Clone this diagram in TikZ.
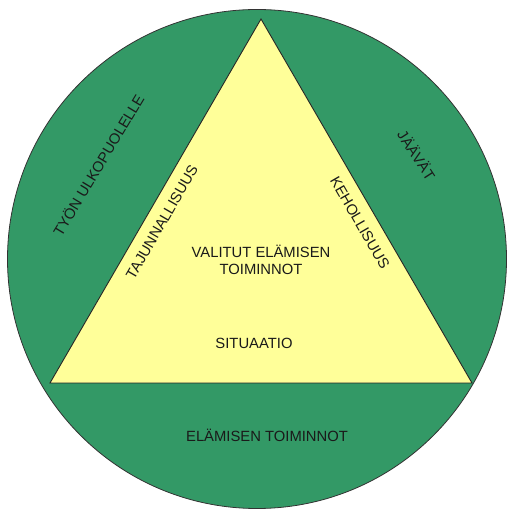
\documentclass[tikz,border=0pt]{standalone}
\usepackage{fontspec}
\setmainfont{Liberation Sans}
\definecolor{ringgreen}{HTML}{339966}
\definecolor{triyellow}{HTML}{FFFF99}
\definecolor{inktext}{HTML}{1A1A1A}
\begin{document}
\begin{tikzpicture}[x=1pt,y=1pt,
  lbl/.style={font=\fontsize{14.8}{16.5}\selectfont, text=inktext, inner sep=0pt, align=center}]
\useasboundingbox (0,0) rectangle (506,511);
\coordinate (c) at (257,252);
\coordinate (top) at (261,492);
\coordinate (bl) at (50,128);
\coordinate (br) at (472,128);
\draw[fill=ringgreen, draw=black!80, line width=0.8pt] (c) circle (249.5);
\draw[fill=triyellow, draw=black!85, line width=0.9pt, line join=miter] (top) -- (br) -- (bl) -- cycle;
\node[lbl] (valitut) at (261,251) {VALITUT ELÄMISEN\\TOIMINNOT};
\node[lbl] (situaatio) at (254,168) {SITUAATIO};
\node[lbl] (elamisen) at (267,76) {ELÄMISEN TOIMINNOT};
\node[lbl, rotate=59] (tyon) at (98,346) {TYÖN ULKOPUOLELLE};
\node[lbl, rotate=60] (taju) at (162,289) {TAJUNNALLISUUS};
\node[lbl, rotate=-60] (keho) at (360,288) {KEHOLLISUUS};
\node[lbl, rotate=-57] (jaavat) at (417,356) {JÄÄVÄT};
\end{tikzpicture}
\end{document}
